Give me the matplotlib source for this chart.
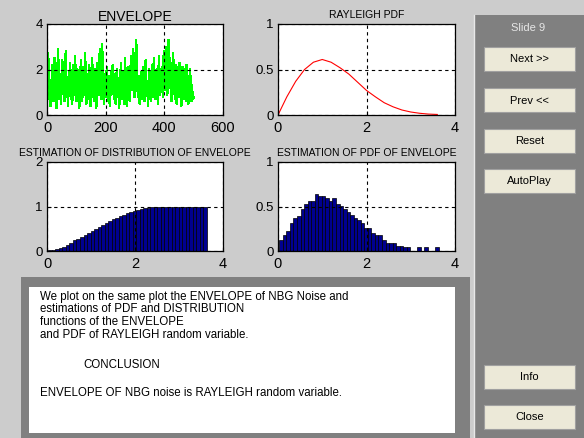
import numpy as np
import matplotlib
matplotlib.use('Agg')
import matplotlib.pyplot as plt
from matplotlib.patches import Rectangle

plt.rcParams['font.family'] = ['Liberation Sans', 'DejaVu Sans']

# --- data ---
# envelope of the NBG noise, one value every 2 samples
envelope = [
    1.0, 2.7, 1.8, 0.7, 1.2, 0.4, 0.9, 1.6, 2.2, 1.3, 0.6, 1.1, 2.5, 1.9, 0.8, 0.3, 1.4, 2.1, 2.9, 1.2, 0.7, 1.5, 1.0, 0.5, 1.8,
    2.4, 1.6, 0.9, 1.3, 0.6, 2.0, 2.8, 1.5, 0.8, 1.1, 0.4, 1.7, 1.2, 2.3, 1.9, 0.7, 1.0, 0.5, 1.6, 2.2, 1.4, 0.9, 2.6, 1.1, 0.6,
    1.3, 2.0, 1.7, 0.8, 0.3, 1.2, 1.9, 2.4, 1.0, 0.6, 1.5, 2.1, 1.3, 0.9, 2.7, 1.6, 0.5, 1.1, 1.8, 0.7, 1.4, 2.2, 1.2, 0.4, 1.0,
    1.7, 2.5, 1.3, 0.8, 1.5, 0.6, 2.0, 1.1, 0.3, 1.6, 2.3, 1.4, 0.9, 1.9, 2.9, 1.2, 0.7, 1.5, 3.1, 2.0, 1.0, 0.5, 1.3, 1.8, 0.8,
    1.4, 2.1, 1.0, 0.6, 1.7, 1.2, 0.4, 1.5, 1.9, 0.9, 1.3, 2.2, 1.6, 0.7, 1.1, 1.8, 0.5, 1.4, 2.0, 1.2, 0.8, 1.6, 0.3, 1.0, 1.5,
    2.3, 1.3, 0.7, 1.1, 1.9, 0.5, 1.2, 2.5, 1.6, 0.9, 0.4, 1.4, 2.1, 1.0, 1.7, 0.6, 1.3, 2.6, 1.8, 1.1, 2.2, 2.9, 1.5, 0.8, 1.2,
    2.0, 3.3, 2.4, 1.4, 0.8, 1.7, 1.2, 0.5, 1.0, 1.9, 1.4, 0.7, 1.6, 2.1, 1.1, 0.6, 1.8, 2.4, 1.3, 0.9, 1.5, 0.4, 1.2, 2.0, 1.6,
    1.0, 0.6, 1.7, 2.2, 1.4, 0.8, 2.5, 1.8, 1.1, 0.7, 1.5, 2.0, 1.2, 0.5, 1.9, 2.6, 1.3, 0.9, 1.6, 1.1, 2.1, 1.4, 0.8, 2.8, 1.7,
    1.1, 2.3, 3.0, 1.6, 0.9, 1.4, 3.3, 2.0, 1.2, 2.5, 1.5, 0.6, 1.9, 1.0, 2.7, 1.8, 1.2, 0.7, 2.2, 1.4, 0.5, 1.7, 2.1, 1.3, 0.8,
    2.3, 1.5, 0.9, 0.4, 1.8, 2.1, 1.2, 0.7, 1.6, 2.0, 1.1, 0.6, 2.2, 1.4, 0.9, 0.5, 1.7, 1.2, 2.0, 1.0, 0.6, 1.3, 0.9, 0.7, 0.8,
]
sample_idx = np.arange(1, len(envelope) + 1) * 2

# Rayleigh pdf curve
ray_x = [0.0, 0.2, 0.4, 0.6, 0.8, 1.0, 1.2, 1.4, 1.6, 1.8, 2.0, 2.2, 2.4, 2.6, 2.8, 3.0, 3.2, 3.4, 3.6]
ray_pdf = [0.0, 0.20, 0.37, 0.50, 0.58, 0.61, 0.58, 0.52, 0.45, 0.36, 0.27, 0.20, 0.135, 0.09, 0.055, 0.033, 0.019, 0.01, 0.006]

# histogram bins of the envelope
bin_left = [round(0.03 + 0.08 * i, 2) for i in range(45)]
pdf_est = [0.12, 0.18, 0.22, 0.31, 0.37, 0.39, 0.47, 0.53, 0.56, 0.56,
           0.64, 0.62, 0.62, 0.59, 0.56, 0.59, 0.53, 0.51, 0.47, 0.44,
           0.41, 0.37, 0.35, 0.31, 0.26, 0.26, 0.20, 0.18, 0.18, 0.12,
           0.09, 0.09, 0.09, 0.06, 0.06, 0.04, 0.04, 0.0, 0.0, 0.04,
           0.0, 0.04, 0.0, 0.0, 0.04]
cdf_est = [0.012, 0.03, 0.045, 0.067, 0.10, 0.14, 0.18, 0.24, 0.28, 0.32,
           0.37, 0.41, 0.46, 0.50, 0.54, 0.58, 0.63, 0.67, 0.72, 0.75,
           0.78, 0.82, 0.85, 0.88, 0.90, 0.93, 0.95, 0.965, 0.975, 0.985,
           0.99, 0.99, 0.995, 0.995, 1.0, 1.0, 1.0, 1.0, 1.0, 1.0,
           1.0, 1.0, 1.0, 1.0, 1.0]

W, H = 584, 438
fig = plt.figure(figsize=(W / 100, H / 100), dpi=100)
fig.patch.set_facecolor('#cccccc')

# background layer in pixel coordinates
bg = fig.add_axes([0, 0, 1, 1], zorder=0)
bg.set_xlim(0, W)
bg.set_ylim(H, 0)
bg.axis('off')

# right control panel
bg.add_patch(Rectangle((474, 15), 110, 423, facecolor='#808080', edgecolor='none'))
bg.plot([474, 474], [15, 438], color='#e8e8e8', lw=1)
bg.text(528, 28, 'Slide 9', color='#e6e6e6', fontsize=8, ha='center', va='center')
buttons = [('Next >>', 47), ('Prev <<', 88), ('Reset', 129), ('AutoPlay', 169),
           ('Info', 365), ('Close', 405)]
for label, top in buttons:
    bg.add_patch(Rectangle((484, top), 91, 24, facecolor='#ece9d8',
                           edgecolor='#a0a0a0', lw=0.8))
    bg.text(529.5, top + 12.5, label, fontsize=8, ha='center', va='center')

# description box
bg.add_patch(Rectangle((21, 277), 449, 161, facecolor='#808080', edgecolor='none'))
bg.add_patch(Rectangle((29, 287), 426, 146, facecolor='white', edgecolor='none'))
lines = [(40, 297, 'We plot on the same plot the ENVELOPE of NBG Noise and'),
         (40, 309, 'estimations of PDF and DISTRIBUTION'),
         (40, 322, 'functions of the ENVELOPE'),
         (40, 335, 'and PDF of RAYLEIGH random variable.'),
         (83, 365, 'CONCLUSION'),
         (40, 393, 'ENVELOPE OF NBG noise is RAYLEIGH random variable.')]
for x, y, s in lines:
    bg.text(x, y, s, fontsize=8.3, ha='left', va='center')


def px_axes(left, top, right, bottom):
    return fig.add_axes([left / W, 1 - bottom / H, (right - left) / W, (bottom - top) / H], zorder=1)


def style(ax, xt, yt, ylabels=None):
    ax.set_xticks(xt)
    ax.set_yticks(yt)
    if ylabels:
        ax.set_yticklabels(ylabels)
    ax.set_xlim(xt[0], xt[-1])
    ax.set_ylim(yt[0], yt[-1])
    ax.grid(True, color='black', linestyle=(0, (3, 3)), lw=0.8)
    ax.set_axisbelow(False)
    ax.tick_params(direction='in', length=3, width=0.8, pad=3)
    ax.tick_params(axis='x', labelsize=10.5, pad=4)
    ax.tick_params(axis='y', labelsize=9.5)
    for sp in ax.spines.values():
        sp.set_linewidth(0.9)


ax1 = px_axes(47, 24, 223, 115)
ax1.plot(sample_idx, envelope, color='#00ff00', lw=1.0, antialiased=False)
style(ax1, [0, 200, 400, 600], [0, 2, 4])
ax1.set_title('ENVELOPE', fontsize=10, pad=2)

ax2 = px_axes(278, 24, 455, 115)
ax2.plot(ray_x, ray_pdf, color='red', lw=0.8)
style(ax2, [0, 2, 4], [0, 0.5, 1], ['0', '0.5', '1'])
ax2.set_title('RAYLEIGH PDF', fontsize=7.5, pad=4)

ax3 = px_axes(47, 162, 223, 251)
ax3.bar(bin_left, cdf_est, width=0.08, align='edge', color='#00008f', edgecolor='black', lw=0.5)
style(ax3, [0, 2, 4], [0, 1, 2])
ax3.set_title('ESTIMATION OF DISTRIBUTION OF ENVELOPE', fontsize=7.5, pad=4)

ax4 = px_axes(278, 162, 455, 251)
ax4.bar(bin_left, pdf_est, width=0.08, align='edge', color='#00008f', edgecolor='black', lw=0.5)
style(ax4, [0, 2, 4], [0, 0.5, 1], ['0', '0.5', '1'])
ax4.set_title('ESTIMATION OF PDF OF ENVELOPE', fontsize=7.5, pad=4)

fig.savefig('out.png', dpi=100, facecolor=fig.get_facecolor())
